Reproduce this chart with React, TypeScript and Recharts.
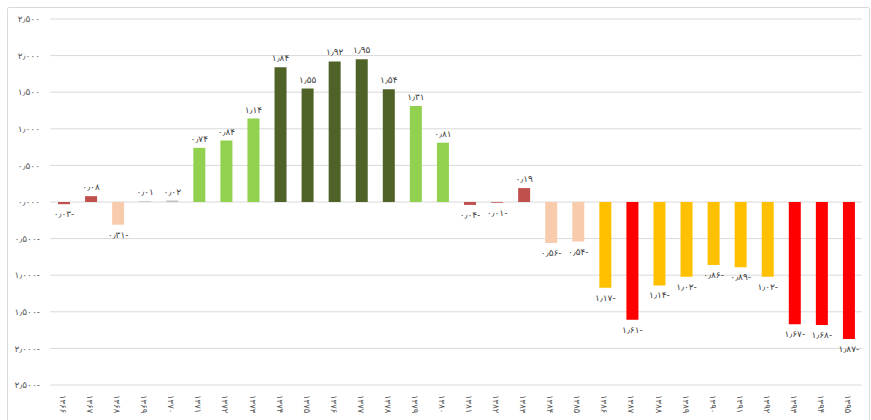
import { BarChart, Bar, XAxis, YAxis, CartesianGrid, Cell, LabelList } from "recharts";

const YEARS = [
  "۱۳۶۶", "۱۳۶۷", "۱۳۶۸", "۱۳۶۹", "۱۳۷۰", "۱۳۷۱", "۱۳۷۲", "۱۳۷۳", "۱۳۷۴", "۱۳۷۵",
  "۱۳۷۶", "۱۳۷۷", "۱۳۷۸", "۱۳۷۹", "۱۳۸۰", "۱۳۸۱", "۱۳۸۲", "۱۳۸۳", "۱۳۸۴", "۱۳۸۵",
  "۱۳۸۶", "۱۳۸۷", "۱۳۸۸", "۱۳۸۹", "۱۳۹۰", "۱۳۹۱", "۱۳۹۲", "۱۳۹۳", "۱۳۹۴", "۱۳۹۵",
];

const VALUES = [
  -0.03, 0.08, -0.31, 0.01, 0.02, 0.74, 0.84, 1.14, 1.84, 1.55,
  1.92, 1.95, 1.54, 1.31, 0.81, -0.04, -0.01, 0.19, -0.56, -0.54,
  -1.17, -1.61, -1.14, -1.02, -0.86, -0.89, -1.02, -1.67, -1.68, -1.87,
];

const BAR_COLORS = [
  "#c0504d", "#c0504d", "#f8cbad", "#bfbfbf", "#bfbfbf", "#92d050", "#92d050", "#92d050", "#4f6228", "#4f6228",
  "#4f6228", "#4f6228", "#4f6228", "#92d050", "#92d050", "#c0504d", "#c0504d", "#c0504d", "#f8cbad", "#f8cbad",
  "#ffc000", "#ff0000", "#ffc000", "#ffc000", "#ffc000", "#ffc000", "#ffc000", "#ff0000", "#ff0000", "#ff0000",
];

const Y_TICKS = [2.5, 2, 1.5, 1, 0.5, 0, -0.5, -1, -1.5, -2, -2.5];

const FA_DIGITS = "۰۱۲۳۴۵۶۷۸۹";

function toFa(v: number, decimals: number) {
  const s = Math.abs(v).toFixed(decimals).replace(/\d/g, d => FA_DIGITS[Number(d)]).replace(".", "٫");
  return v < 0 ? s + "-" : s;
}

const data = YEARS.map((year, i) => ({ year, value: VALUES[i], color: BAR_COLORS[i] }));

const FONT = "'DejaVu Sans', sans-serif";

function YearTick({ x, y, payload }: any) {
  return (
    <g transform={`translate(${x},${y})`}>
      <text transform="rotate(90)" x={0} y={0} dy={3.5} textAnchor="start" fontSize={8.5} fill="#595959" fontFamily={FONT}>
        {payload.value}
      </text>
    </g>
  );
}

function ValueLabel({ x, y, width, height, value }: any) {
  const neg = value < 0;
  const cx = x + width / 2;
  const top = Math.min(y, y + height);
  const bottom = Math.max(y, y + height);
  const ty = neg ? bottom + 13 : top - 6;
  return (
    <text x={cx} y={ty} textAnchor="middle" fontSize={9} fill="#404040" fontFamily={FONT}>
      {toFa(value, 2)}
    </text>
  );
}

export default function App() {
  return (
    <div style={{ position: "absolute", left: 7, top: 7, width: 861, height: 420, border: "1px solid #d9d9d9", borderRadius: 2, background: "#fff" }}>
      <BarChart width={860} height={412} data={data} margin={{ top: 11, right: 6, bottom: 0, left: 0 }}>
        <CartesianGrid vertical={false} stroke="#d9d9d9" />
        <XAxis dataKey="year" axisLine={false} tickLine={false} interval={0} height={35} tick={<YearTick />} tickMargin={4} />
        <YAxis
          domain={[-2.5, 2.5]}
          ticks={Y_TICKS}
          axisLine={false}
          tickLine={false}
          width={42}
          tickMargin={4}
          tick={{ fontSize: 9, fill: "#595959", fontFamily: FONT }}
          tickFormatter={v => toFa(v, 3)}
        />
        <Bar dataKey="value" barSize={12} isAnimationActive={false}>
          {data.map((d, i) => <Cell key={i} fill={d.color} />)}
          <LabelList dataKey="value" content={<ValueLabel />} />
        </Bar>
      </BarChart>
    </div>
  );
}
